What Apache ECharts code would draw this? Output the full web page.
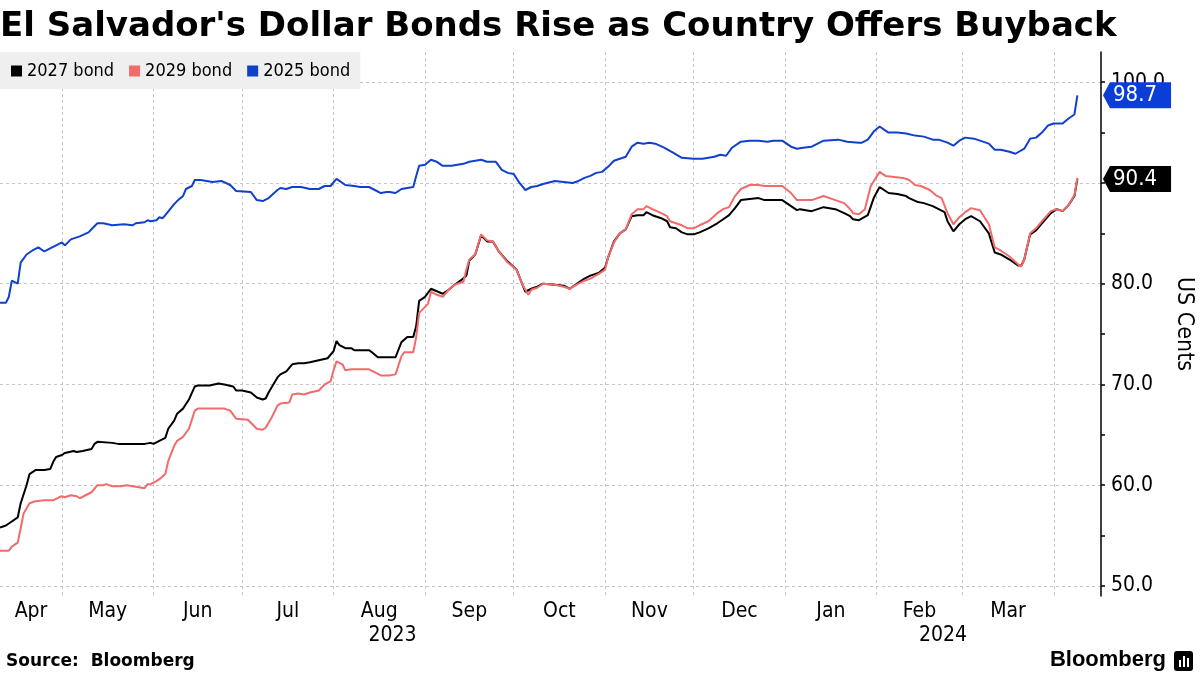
<!DOCTYPE html>
<html>
<head>
<meta charset="utf-8">
<script src="https://cdn.jsdelivr.net/npm/echarts/dist/echarts.min.js"></script>
<style>html,body{margin:0;padding:0;background:#fff}#chart{width:1200px;height:675px}</style>
</head>
<body>
<div id="chart"></div>
<script>
const chartTitle = "El Salvador's Dollar Bonds Rise as Country Offers Buyback";
const seriesNames = ['2027 bond', '2029 bond', '2025 bond'];
const seriesColors = ['#000000', '#f36a6a', '#1040cc'];

const bond2027 = [['2023-04-10',55.8],['2023-04-12',56.0],['2023-04-14',56.4],['2023-04-16',56.8],['2023-04-17',58.2],['2023-04-18',59.1],['2023-04-19',60.0],['2023-04-20',61.1],['2023-04-22',61.5],['2023-04-25',61.5],['2023-04-27',61.6],['2023-04-28',62.3],['2023-04-29',62.8],['2023-05-01',63.0],['2023-05-02',63.2],['2023-05-05',63.4],['2023-05-06',63.3],['2023-05-08',63.4],['2023-05-11',63.6],['2023-05-12',64.1],['2023-05-13',64.3],['2023-05-18',64.2],['2023-05-20',64.1],['2023-05-29',64.1],['2023-05-31',64.2],['2023-06-01',64.1],['2023-06-03',64.4],['2023-06-05',64.7],['2023-06-06',65.6],['2023-06-08',66.4],['2023-06-09',67.1],['2023-06-11',67.6],['2023-06-13',68.5],['2023-06-15',69.8],['2023-06-16',69.9],['2023-06-20',69.9],['2023-06-23',70.1],['2023-06-25',70.0],['2023-06-28',69.8],['2023-06-29',69.4],['2023-07-01',69.4],['2023-07-04',69.2],['2023-07-06',68.7],['2023-07-08',68.5],['2023-07-09',68.6],['2023-07-10',69.2],['2023-07-13',70.7],['2023-07-14',71.0],['2023-07-16',71.3],['2023-07-18',72.0],['2023-07-20',72.1],['2023-07-22',72.1],['2023-07-24',72.2],['2023-07-27',72.4],['2023-07-30',72.6],['2023-08-01',73.3],['2023-08-02',74.3],['2023-08-03',73.9],['2023-08-05',73.6],['2023-08-07',73.6],['2023-08-08',73.4],['2023-08-13',73.4],['2023-08-14',73.2],['2023-08-16',72.7],['2023-08-18',72.7],['2023-08-22',72.7],['2023-08-24',74.2],['2023-08-26',74.7],['2023-08-28',74.7],['2023-08-29',75.8],['2023-08-30',78.3],['2023-09-01',78.7],['2023-09-03',79.5],['2023-09-07',79.0],['2023-09-09',79.4],['2023-09-11',79.9],['2023-09-13',80.3],['2023-09-15',80.8],['2023-09-16',82.3],['2023-09-18',82.9],['2023-09-20',84.8],['2023-09-22',84.2],['2023-09-24',84.2],['2023-09-26',83.2],['2023-09-29',82.2],['2023-10-02',81.4],['2023-10-04',79.9],['2023-10-05',79.2],['2023-10-07',79.5],['2023-10-09',79.7],['2023-10-11',80.0],['2023-10-15',79.9],['2023-10-18',79.8],['2023-10-20',79.5],['2023-10-23',80.1],['2023-10-25',80.5],['2023-10-27',80.8],['2023-10-30',81.1],['2023-11-01',81.6],['2023-11-02',82.6],['2023-11-04',84.2],['2023-11-06',85.0],['2023-11-08',85.4],['2023-11-10',86.7],['2023-11-12',86.8],['2023-11-14',86.8],['2023-11-15',87.1],['2023-11-17',86.8],['2023-11-20',86.5],['2023-11-22',86.2],['2023-11-23',85.6],['2023-11-25',85.5],['2023-11-27',85.1],['2023-11-29',84.9],['2023-12-01',84.9],['2023-12-03',85.1],['2023-12-06',85.5],['2023-12-09',86.0],['2023-12-11',86.4],['2023-12-13',86.8],['2023-12-15',87.5],['2023-12-17',88.3],['2023-12-20',88.4],['2023-12-23',88.5],['2023-12-25',88.3],['2023-12-28',88.3],['2023-12-31',88.3],['2024-01-03',87.7],['2024-01-05',87.3],['2024-01-06',87.4],['2024-01-10',87.2],['2024-01-14',87.6],['2024-01-18',87.4],['2024-01-21',87.0],['2024-01-23',86.7],['2024-01-24',86.4],['2024-01-26',86.3],['2024-01-29',86.8],['2024-01-31',88.5],['2024-02-02',89.6],['2024-02-04',89.2],['2024-02-05',89.0],['2024-02-08',88.9],['2024-02-11',88.7],['2024-02-12',88.5],['2024-02-15',88.1],['2024-02-17',88.0],['2024-02-20',87.7],['2024-02-22',87.4],['2024-02-24',87.1],['2024-02-25',86.2],['2024-02-27',85.2],['2024-02-29',85.9],['2024-03-02',86.4],['2024-03-04',86.7],['2024-03-07',86.2],['2024-03-10',85.0],['2024-03-12',83.1],['2024-03-14',82.9],['2024-03-17',82.4],['2024-03-20',81.8],['2024-03-21',81.8],['2024-03-22',82.4],['2024-03-24',84.9],['2024-03-26',85.3],['2024-03-28',86.0],['2024-03-31',87.0],['2024-04-02',87.4],['2024-04-04',87.2],['2024-04-06',87.8],['2024-04-08',88.7],['2024-04-09',90.4]];

const bond2029 = [['2023-04-10',53.5],['2023-04-13',53.5],['2023-04-14',53.9],['2023-04-16',54.3],['2023-04-17',55.7],['2023-04-18',57.2],['2023-04-20',58.2],['2023-04-22',58.4],['2023-04-25',58.5],['2023-04-28',58.5],['2023-04-30',58.8],['2023-05-01',58.9],['2023-05-02',58.8],['2023-05-04',59.0],['2023-05-06',58.9],['2023-05-07',58.7],['2023-05-09',59.0],['2023-05-11',59.3],['2023-05-13',60.0],['2023-05-15',60.0],['2023-05-16',60.1],['2023-05-18',59.9],['2023-05-21',59.9],['2023-05-23',60.0],['2023-05-25',59.9],['2023-05-27',59.8],['2023-05-29',59.7],['2023-05-30',60.1],['2023-05-31',60.1],['2023-06-02',60.4],['2023-06-03',60.6],['2023-06-05',61.1],['2023-06-06',62.4],['2023-06-08',63.9],['2023-06-09',64.4],['2023-06-11',64.8],['2023-06-13',65.6],['2023-06-15',67.4],['2023-06-16',67.6],['2023-06-21',67.6],['2023-06-25',67.6],['2023-06-27',67.4],['2023-06-29',66.6],['2023-07-03',66.5],['2023-07-04',66.2],['2023-07-06',65.6],['2023-07-08',65.5],['2023-07-09',65.7],['2023-07-11',66.7],['2023-07-13',67.9],['2023-07-14',68.1],['2023-07-17',68.2],['2023-07-18',69.0],['2023-07-20',69.1],['2023-07-22',69.0],['2023-07-24',69.2],['2023-07-27',69.4],['2023-07-29',70.0],['2023-07-31',70.3],['2023-08-01',71.4],['2023-08-02',72.3],['2023-08-04',72.0],['2023-08-05',71.4],['2023-08-07',71.5],['2023-08-09',71.5],['2023-08-13',71.5],['2023-08-15',71.2],['2023-08-17',70.9],['2023-08-20',70.9],['2023-08-22',71.0],['2023-08-24',72.8],['2023-08-25',73.2],['2023-08-28',73.2],['2023-08-29',74.7],['2023-08-30',77.1],['2023-09-02',78.0],['2023-09-03',79.2],['2023-09-05',78.9],['2023-09-07',78.7],['2023-09-09',79.4],['2023-09-11',79.9],['2023-09-14',80.2],['2023-09-15',81.4],['2023-09-16',82.4],['2023-09-18',82.9],['2023-09-20',84.9],['2023-09-22',84.3],['2023-09-24',84.2],['2023-09-26',83.2],['2023-09-29',82.1],['2023-10-02',81.4],['2023-10-04',79.9],['2023-10-06',78.9],['2023-10-07',79.4],['2023-10-09',79.6],['2023-10-11',80.0],['2023-10-15',79.9],['2023-10-18',79.7],['2023-10-20',79.5],['2023-10-23',80.0],['2023-10-25',80.3],['2023-10-27',80.5],['2023-10-30',81.0],['2023-11-01',81.4],['2023-11-02',82.6],['2023-11-04',84.1],['2023-11-06',85.0],['2023-11-08',85.4],['2023-11-10',86.9],['2023-11-12',87.4],['2023-11-14',87.4],['2023-11-15',87.7],['2023-11-17',87.4],['2023-11-20',87.0],['2023-11-22',86.7],['2023-11-23',86.2],['2023-11-25',86.0],['2023-11-27',85.8],['2023-11-29',85.5],['2023-12-01',85.5],['2023-12-03',85.8],['2023-12-06',86.2],['2023-12-09',87.0],['2023-12-11',87.4],['2023-12-13',87.6],['2023-12-15',88.7],['2023-12-17',89.4],['2023-12-20',89.8],['2023-12-23',89.8],['2023-12-25',89.7],['2023-12-28',89.7],['2023-12-31',89.7],['2024-01-03',89.0],['2024-01-05',88.3],['2024-01-07',88.3],['2024-01-10',88.3],['2024-01-14',88.7],['2024-01-18',88.3],['2024-01-21',88.0],['2024-01-23',87.4],['2024-01-24',87.0],['2024-01-26',86.9],['2024-01-28',87.4],['2024-01-30',89.7],['2024-02-02',91.1],['2024-02-04',90.7],['2024-02-07',90.6],['2024-02-10',90.5],['2024-02-12',90.3],['2024-02-14',89.8],['2024-02-16',89.7],['2024-02-19',89.3],['2024-02-21',88.8],['2024-02-23',88.5],['2024-02-25',87.0],['2024-02-27',85.9],['2024-02-29',86.6],['2024-03-02',87.1],['2024-03-04',87.5],['2024-03-07',87.3],['2024-03-10',85.9],['2024-03-12',83.6],['2024-03-14',83.3],['2024-03-17',82.7],['2024-03-20',81.9],['2024-03-21',81.7],['2024-03-22',82.4],['2024-03-24',85.0],['2024-03-26',85.5],['2024-03-28',86.2],['2024-03-31',87.2],['2024-04-02',87.4],['2024-04-04',87.2],['2024-04-06',87.8],['2024-04-08',88.8],['2024-04-09',90.5]];

const bond2025 = [['2023-04-10',78.1],['2023-04-12',78.1],['2023-04-13',78.7],['2023-04-14',80.3],['2023-04-16',80.0],['2023-04-17',82.1],['2023-04-19',82.9],['2023-04-21',83.3],['2023-04-23',83.6],['2023-04-25',83.2],['2023-04-27',83.5],['2023-05-01',84.1],['2023-05-02',83.8],['2023-05-04',84.4],['2023-05-06',84.6],['2023-05-07',84.7],['2023-05-10',85.1],['2023-05-11',85.4],['2023-05-13',86.0],['2023-05-15',86.0],['2023-05-18',85.8],['2023-05-22',85.9],['2023-05-25',85.8],['2023-05-26',86.0],['2023-05-29',86.1],['2023-05-30',86.3],['2023-05-31',86.2],['2023-06-02',86.3],['2023-06-03',86.6],['2023-06-04',86.5],['2023-06-05',86.8],['2023-06-08',87.9],['2023-06-09',88.2],['2023-06-11',88.7],['2023-06-12',89.4],['2023-06-14',89.7],['2023-06-15',90.3],['2023-06-17',90.3],['2023-06-21',90.1],['2023-06-24',90.2],['2023-06-27',89.8],['2023-06-29',89.2],['2023-07-04',89.1],['2023-07-06',88.3],['2023-07-08',88.2],['2023-07-10',88.5],['2023-07-13',89.3],['2023-07-14',89.5],['2023-07-16',89.4],['2023-07-18',89.6],['2023-07-21',89.6],['2023-07-24',89.4],['2023-07-27',89.4],['2023-07-29',89.7],['2023-07-31',89.7],['2023-08-02',90.4],['2023-08-03',90.2],['2023-08-05',89.8],['2023-08-08',89.7],['2023-08-10',89.6],['2023-08-13',89.6],['2023-08-15',89.3],['2023-08-17',89.0],['2023-08-19',89.1],['2023-08-20',89.1],['2023-08-22',89.0],['2023-08-24',89.4],['2023-08-26',89.5],['2023-08-28',89.6],['2023-08-29',90.7],['2023-08-30',91.7],['2023-09-01',91.8],['2023-09-03',92.3],['2023-09-05',92.1],['2023-09-07',91.7],['2023-09-10',91.7],['2023-09-14',91.9],['2023-09-16',92.1],['2023-09-20',92.3],['2023-09-22',92.1],['2023-09-25',92.1],['2023-09-27',91.3],['2023-09-29',91.0],['2023-10-01',90.9],['2023-10-03',90.0],['2023-10-05',89.3],['2023-10-07',89.6],['2023-10-09',89.7],['2023-10-11',89.9],['2023-10-15',90.2],['2023-10-18',90.1],['2023-10-21',90.0],['2023-10-23',90.2],['2023-10-25',90.5],['2023-10-27',90.7],['2023-10-29',91.0],['2023-10-31',91.1],['2023-11-02',91.6],['2023-11-04',92.2],['2023-11-06',92.4],['2023-11-08',92.6],['2023-11-10',93.6],['2023-11-12',94.0],['2023-11-14',93.9],['2023-11-16',94.0],['2023-11-18',93.9],['2023-11-21',93.5],['2023-11-24',93.0],['2023-11-27',92.5],['2023-12-01',92.4],['2023-12-04',92.4],['2023-12-08',92.6],['2023-12-10',92.8],['2023-12-12',92.7],['2023-12-14',93.5],['2023-12-17',94.1],['2023-12-20',94.2],['2023-12-23',94.2],['2023-12-26',94.1],['2023-12-28',94.2],['2023-12-31',94.2],['2024-01-03',93.6],['2024-01-05',93.4],['2024-01-07',93.5],['2024-01-10',93.6],['2024-01-14',94.2],['2024-01-19',94.3],['2024-01-22',94.1],['2024-01-26',94.0],['2024-01-27',94.0],['2024-01-29',94.3],['2024-01-31',95.1],['2024-02-02',95.6],['2024-02-05',95.0],['2024-02-08',95.0],['2024-02-11',94.9],['2024-02-14',94.7],['2024-02-17',94.6],['2024-02-20',94.3],['2024-02-22',94.3],['2024-02-25',94.0],['2024-02-27',93.7],['2024-02-29',94.2],['2024-03-02',94.5],['2024-03-05',94.4],['2024-03-07',94.2],['2024-03-10',93.9],['2024-03-12',93.3],['2024-03-14',93.3],['2024-03-17',93.1],['2024-03-19',92.9],['2024-03-22',93.4],['2024-03-24',94.4],['2024-03-26',94.5],['2024-03-28',95.0],['2024-03-30',95.7],['2024-04-01',95.9],['2024-04-04',95.9],['2024-04-06',96.4],['2024-04-08',96.8],['2024-04-09',98.7]];

const xRange = ['2023-04-10', '2024-04-17'];
const yRange = [49.0, 103.0];
const yLabelValues = [50, 60, 70, 80, 90, 100];
const yTickValues = [50, 55, 60, 65, 70, 75, 80, 85, 90, 95, 100];
const monthStarts = ['2023-05-01','2023-06-01','2023-07-01','2023-08-01','2023-09-01','2023-10-01','2023-11-01','2023-12-01','2024-01-01','2024-02-01','2024-03-01','2024-04-01'];
const monthLabelDates = ['2023-04-20T12','2023-05-16T12','2023-06-16T00','2023-07-16T12','2023-08-16T12','2023-09-16T00','2023-10-16T12','2023-11-16T00','2023-12-16T12','2024-01-16T12','2024-02-15T12','2024-03-16T12'];
const monthLabels = ['Apr','May','Jun','Jul','Aug','Sep','Oct','Nov','Dec','Jan','Feb','Mar'];
const yearLabelDates = ['2023-08-21T00','2024-02-23T12'];
const yearLabels = ['2023','2024'];
const yAxisName = 'US Cents';
const sourceText = 'Source:  Bloomberg';

const FONT = '"DejaVu Sans Condensed", "Liberation Sans Narrow", "DejaVu Sans", sans-serif';
const BOLD = '"DejaVu Sans", Verdana, sans-serif';

function ts(s) {
  const p = s.split(/[-T:]/).map(Number);
  return new Date(p[0], p[1] - 1, p[2], p[3] || 0, p[4] || 0).getTime();
}
const toPoints = arr => arr.map(d => [ts(d[0]), d[1]]);
const monthMap = {};
monthLabelDates.forEach((d, i) => { monthMap[ts(d)] = monthLabels[i]; });
const yearMap = {};
yearLabelDates.forEach((d, i) => { yearMap[ts(d)] = yearLabels[i]; });
const lookup = (map, v) => {
  for (const k in map) { if (Math.abs(Number(k) - v) < 1000) return map[k]; }
  return '';
};

const lastBlue = bond2025[bond2025.length - 1][1];
const lastBlack = bond2027[bond2027.length - 1][1];

function arrowImg(color) {
  const svg = "<svg xmlns='http://www.w3.org/2000/svg' width='7' height='26'><polygon points='7,0 7,26 0,13' fill='" + color + "'/></svg>";
  return 'data:image/svg+xml;charset=utf-8,' + encodeURIComponent(svg);
}
const BLUE_BOX = '#0a3ed6';

const gridLine = { show: true, lineStyle: { color: '#c6c6c6', type: [3, 3], width: 1 } };

const chart = echarts.init(document.getElementById('chart'), null, { renderer: 'canvas' });
const option = {
  animation: false,
  backgroundColor: '#ffffff',
  color: seriesColors,
  title: {
    text: chartTitle, left: 0, top: 10, padding: 0,
    textStyle: { fontFamily: BOLD, fontWeight: 'bold', fontSize: 34, color: '#000' }
  },
  legend: {
    data: seriesNames, left: 0, top: 52, orient: 'horizontal',
    backgroundColor: '#efefef', padding: [10, 10, 9, 11], itemGap: 15,
    itemWidth: 11, itemHeight: 11, icon: 'rect',
    textStyle: { fontFamily: FONT, fontSize: 18, color: '#000' }
  },
  grid: { left: 0, right: 99, top: 52, bottom: 79, containLabel: false, outerBoundsMode: 'none' },
  xAxis: [
    {
      type: 'value', min: ts(xRange[0]), max: ts(xRange[1]), scale: true,
      axisLine: { show: false },
      axisTick: { show: false, customValues: monthStarts.map(ts) },
      splitLine: gridLine,
      axisLabel: {
        customValues: monthLabelDates.map(ts),
        formatter: v => lookup(monthMap, v),
        margin: 5, fontFamily: FONT, fontSize: 21, color: '#000'
      }
    },
    {
      type: 'value', position: 'bottom', min: ts(xRange[0]), max: ts(xRange[1]), scale: true,
      axisLine: { show: false }, axisTick: { show: false }, splitLine: { show: false },
      axisLabel: {
        customValues: yearLabelDates.map(ts),
        formatter: v => lookup(yearMap, v),
        margin: 29, fontFamily: FONT, fontSize: 21, color: '#000'
      }
    }
  ],
  yAxis: [
    {
      type: 'value', position: 'right', min: yRange[0], max: yRange[1],
      axisLine: { show: true, lineStyle: { color: '#000', width: 1.5 } },
      axisTick: { show: true, inside: false, length: 4, customValues: yTickValues, lineStyle: { color: '#000', width: 1.5 } },
      axisLabel: { customValues: yLabelValues, formatter: v => Number(v).toFixed(1), margin: 10, fontFamily: FONT, fontSize: 21, color: '#000' },
      splitLine: { show: false },
      name: yAxisName, nameLocation: 'middle', nameRotate: -90, nameGap: 71, nameMoveOverlap: false,
      nameTextStyle: { fontFamily: FONT, fontSize: 23, color: '#000' }
    },
    {
      type: 'value', position: 'right', min: yRange[0], max: yRange[1],
      axisLine: { show: false },
      axisTick: { show: false, customValues: yLabelValues },
      splitLine: gridLine,
      axisLabel: {
        customValues: [lastBlue, lastBlack],
        margin: 2,
        formatter: v => Math.abs(v - lastBlue) < 1e-6
          ? '{ab|}{b|' + Number(v).toFixed(1) + '}'
          : '{ak|}{k|' + Number(v).toFixed(1) + '}',
        rich: {
          ab: { width: 7, height: 26, backgroundColor: { image: arrowImg(BLUE_BOX) } },
          b: { backgroundColor: BLUE_BOX, color: '#fff', fontFamily: FONT, fontSize: 22, height: 26, lineHeight: 26, padding: [0, 14, 0, 3] },
          ak: { width: 7, height: 26, backgroundColor: { image: arrowImg('#000000') } },
          k: { backgroundColor: '#000', color: '#fff', fontFamily: FONT, fontSize: 22, height: 26, lineHeight: 26, padding: [0, 14, 0, 3] }
        }
      }
    }
  ],
  series: [
    { name: seriesNames[0], type: 'line', data: toPoints(bond2027), xAxisIndex: 0, yAxisIndex: 0, showSymbol: false, symbol: 'none',
      lineStyle: { width: 2, color: seriesColors[0] }, itemStyle: { color: seriesColors[0] } },
    { name: seriesNames[1], type: 'line', data: toPoints(bond2029), xAxisIndex: 0, yAxisIndex: 0, showSymbol: false, symbol: 'none',
      lineStyle: { width: 2, color: seriesColors[1] }, itemStyle: { color: seriesColors[1] } },
    { name: seriesNames[2], type: 'line', data: toPoints(bond2025), xAxisIndex: 0, yAxisIndex: 0, showSymbol: false, symbol: 'none',
      lineStyle: { width: 2, color: seriesColors[2] }, itemStyle: { color: seriesColors[2] } }
  ],
  graphic: [
    { type: 'text', left: 6, top: 653, style: { text: sourceText, font: 'bold 17px ' + BOLD, fill: '#000' } },
    { type: 'text', right: 34, top: 649, style: { text: 'Bloomberg', font: 'bold 22px "Liberation Sans", Arial, sans-serif', fill: '#000' } },
    { type: 'group', right: 7, top: 651, children: [
      { type: 'rect', shape: { x: 0, y: 0, width: 19, height: 20, r: 3 }, style: { fill: '#000' } },
      { type: 'rect', shape: { x: 5, y: 9, width: 2, height: 7 }, style: { fill: '#fff' } },
      { type: 'rect', shape: { x: 9, y: 5, width: 2, height: 11 }, style: { fill: '#fff' } },
      { type: 'rect', shape: { x: 13, y: 7, width: 2, height: 9 }, style: { fill: '#fff' } }
    ] }
  ]
};
chart.setOption(option);
</script>
</body>
</html>
